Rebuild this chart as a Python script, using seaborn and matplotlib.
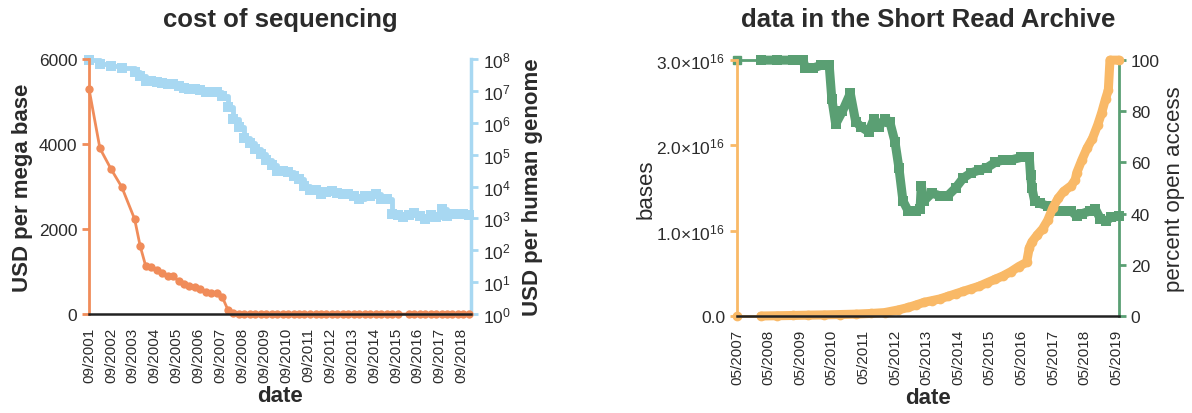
import numpy as np
import pandas as pd
import matplotlib
matplotlib.use("Agg")
import matplotlib.pyplot as plt
import matplotlib.dates as mdates
from matplotlib.ticker import FixedLocator, FixedFormatter, LogLocator, NullLocator
import seaborn as sns

# --- cost of sequencing (quarterly) ---
cost_dates = [
    "2001-09-01", "2002-03-01", "2002-09-01", "2003-03-01", "2003-10-01",
    "2004-01-01", "2004-04-01", "2004-07-01", "2004-10-01",
    "2005-01-01", "2005-04-01", "2005-07-01", "2005-10-01",
    "2006-01-01", "2006-04-01", "2006-07-01", "2006-10-01",
    "2007-01-01", "2007-04-01", "2007-07-01", "2007-10-01",
    "2008-01-01", "2008-04-01", "2008-07-01", "2008-10-01",
    "2009-01-01", "2009-04-01", "2009-07-01", "2009-10-01",
    "2010-01-01", "2010-04-01", "2010-07-01", "2010-10-01",
    "2011-01-01", "2011-04-01", "2011-07-01", "2011-10-01",
    "2012-01-01", "2012-04-01", "2012-07-01", "2012-10-01",
    "2013-01-01", "2013-04-01", "2013-07-01", "2013-10-01",
    "2014-01-01", "2014-04-01", "2014-07-01", "2014-10-01",
    "2015-01-01", "2015-04-01", "2015-07-01", "2015-10-01",
    "2016-01-01", "2016-04-01", "2016-07-01", "2016-10-01",
    "2017-01-01", "2017-04-01", "2017-07-01", "2017-10-01",
    "2018-01-01", "2018-04-01", "2018-07-01", "2018-10-01",
    "2019-01-01",
]
usd_per_mb = [
    5292, 3899, 3414, 2986, 2231,
    1599, 1136, 1107, 1029,
    974, 898, 899, 767,
    699, 652, 636, 582,
    523, 503, 496, 397,
    102, 15, 8.4, 3.8,
    2.6, 1.7, 1.2, 0.78,
    0.52, 0.35, 0.35, 0.32,
    0.23, 0.19, 0.12, 0.09,
    0.09, 0.07, 0.07, 0.06,
    0.06, 0.06, 0.06, 0.05,
    0.04, 0.05, 0.05, 0.06,
    0.04, 0.04, 0.015, 0.014,
    np.nan, 0.013, 0.012, 0.012,
    0.012, 0.012, 0.011, 0.011,
    0.010, 0.010, 0.010, 0.010,
    0.010,
]
usd_per_genome = [
    95.3e6, 70.2e6, 61.4e6, 53.8e6, 40.2e6,
    28.8e6, 20.4e6, 19.9e6, 18.5e6,
    17.5e6, 16.2e6, 16.2e6, 13.8e6,
    12.6e6, 11.7e6, 11.5e6, 10.5e6,
    9.4e6, 9.0e6, 8.9e6, 7.1e6,
    3.06e6, 1.35e6, 752e3, 342e3,
    233e3, 155e3, 108e3, 70e3,
    46.8e3, 31.5e3, 31.1e3, 29.1e3,
    21.0e3, 16.7e3, 10.5e3, 7.7e3,
    7.7e3, 5.9e3, 6.6e3, 7.0e3,
    6.4e3, 5.7e3, 5.8e3, 5.1e3,
    4.0e3, 4.9e3, 4.9e3, 5.7e3,
    4.0e3, 4.2e3, 1.36e3, 1.25e3,
    1.12e3, 1.25e3, 1.45e3, 1.2e3,
    0.95e3, 1.3e3, 1.1e3, 1.9e3,
    1.2e3, 1.4e3, 1.4e3, 1.35e3,
    1.3e3,
]

# --- Short Read Archive ---
bases_dates = [
    "2007-05-01", "2008-02-01", "2008-08-01", "2009-02-01", "2009-08-01",
    "2010-02-01", "2010-08-01", "2011-02-01", "2011-08-01", "2012-01-01",
    "2012-06-01", "2012-10-01", "2013-01-01", "2013-04-01", "2013-07-01",
    "2013-10-01", "2014-01-01", "2014-04-01", "2014-07-01", "2014-10-01",
    "2015-01-01", "2015-04-01", "2015-07-01", "2015-10-01", "2016-01-01",
    "2016-04-01", "2016-07-01", "2016-08-01", "2016-09-01", "2016-11-01",
    "2017-01-01", "2017-03-01", "2017-05-01", "2017-07-01", "2017-09-01",
    "2017-12-01", "2018-01-15", "2018-02-01", "2018-04-01", "2018-06-01",
    "2018-08-01", "2018-10-01", "2018-11-15", "2019-01-01", "2019-02-01",
    "2019-02-20", "2019-06-01",
]
bases = [
    0.0, 0.0, 0.003e16, 0.006e16, 0.01e16,
    0.013e16, 0.017e16, 0.022e16, 0.03e16, 0.04e16,
    0.07e16, 0.10e16, 0.13e16, 0.16e16, 0.18e16,
    0.20e16, 0.23e16, 0.26e16, 0.29e16, 0.32e16,
    0.35e16, 0.39e16, 0.43e16, 0.47e16, 0.52e16,
    0.58e16, 0.63e16, 0.80e16, 0.87e16, 0.95e16,
    1.02e16, 1.12e16, 1.27e16, 1.38e16, 1.46e16,
    1.53e16, 1.60e16, 1.68e16, 1.83e16, 1.97e16,
    2.08e16, 2.24e16, 2.38e16, 2.55e16, 2.65e16,
    3.0e16, 3.0e16,
]
open_dates = [
    "2007-05-01", "2008-02-01", "2008-08-01", "2009-02-01", "2009-06-01",
    "2009-07-01", "2009-10-01", "2010-01-01", "2010-04-01", "2010-05-01",
    "2010-06-15", "2010-09-01", "2010-12-01", "2011-02-01", "2011-04-01",
    "2011-07-01", "2011-09-01", "2011-11-01", "2012-01-01", "2012-03-01",
    "2012-05-01", "2012-06-15", "2012-08-01", "2012-10-01", "2013-01-01",
    "2013-02-15", "2013-03-01", "2013-04-01", "2013-07-01", "2013-10-01",
    "2014-01-01", "2014-04-01", "2014-07-01", "2014-10-01", "2015-01-01",
    "2015-04-01", "2015-07-01", "2015-10-01", "2016-01-01", "2016-05-01",
    "2016-08-01", "2016-08-15", "2016-09-01", "2016-10-01", "2016-12-01",
    "2017-03-01", "2017-06-01", "2017-10-01", "2017-12-01", "2018-02-01",
    "2018-04-01", "2018-07-01", "2018-09-01", "2018-11-01", "2019-01-01",
    "2019-03-01", "2019-06-01",
]
percent_open = [
    100, 100, 100, 100, 100,
    97, 97, 98, 98, 85,
    75, 80, 87, 76, 74,
    72, 77, 74, 77, 76,
    68, 58, 45, 41, 41,
    42, 51, 45, 48, 47,
    47, 50, 54, 56, 57,
    58, 60, 61, 61, 62,
    62, 55, 50, 45, 44,
    43, 41, 41, 41, 39,
    40, 41, 42, 38, 37,
    38.5, 39,
]

cost = pd.DataFrame({"date": pd.to_datetime(cost_dates),
                     "mb": usd_per_mb, "genome": usd_per_genome})
sra = pd.DataFrame({"date": pd.to_datetime(bases_dates), "bases": bases})
opn = pd.DataFrame({"date": pd.to_datetime(open_dates), "pct": percent_open})

sns.set_style("white")
plt.rcParams["font.family"] = ["Liberation Sans", "DejaVu Sans"]
plt.rcParams["mathtext.fontset"] = "custom"
plt.rcParams["mathtext.rm"] = "Liberation Sans"
plt.rcParams["mathtext.it"] = "Liberation Sans"

TXT = "#2b2b2b"
ORANGE1 = "#F08C5A"
BLUE = "#A8D8F2"
ORANGE2 = "#F9B967"
GREEN = "#5A9F73"
LBL = 16
TICK = 12.5

fig = plt.figure(figsize=(11.92, 4.14), dpi=100)

# ---------------- left: cost of sequencing ----------------
ax1 = fig.add_axes([0.0747, 0.2391, 0.3205, 0.616])
ax2 = ax1.twinx()
ax1.set_zorder(ax2.get_zorder() + 1)
ax1.patch.set_visible(False)

sns.lineplot(data=cost, x="date", y="genome", ax=ax2, color=BLUE, marker="s",
             markersize=6.5, markeredgewidth=0, linewidth=3.5,
             drawstyle="steps-post", clip_on=False)
sns.lineplot(data=cost, x="date", y="mb", ax=ax1, color=ORANGE1, marker="o",
             markersize=6, markeredgewidth=0, linewidth=2, clip_on=False)

ax1.set_xlim(pd.Timestamp("2001-09-01"), pd.Timestamp("2019-02-05"))
ax1.set_ylim(0, 6000)
ax1.set_yticks([0, 2000, 4000, 6000])
ax2.set_yscale("log")
ax2.set_ylim(1, 1e8)
ax2.yaxis.set_major_locator(LogLocator(base=10, numticks=12))
ax2.yaxis.set_minor_locator(NullLocator())

ax1.xaxis.set_major_locator(FixedLocator(mdates.date2num(
    pd.to_datetime([f"{y}-09-01" for y in range(2001, 2019)]))))
ax1.xaxis.set_major_formatter(mdates.DateFormatter("%m/%Y"))

for ax in (ax1, ax2):
    ax.spines["top"].set_visible(False)
ax1.spines["right"].set_visible(False)
ax2.spines["left"].set_visible(False)
ax2.spines["bottom"].set_visible(False)
ax1.spines["left"].set_color(ORANGE1)
ax1.spines["left"].set_linewidth(2)
ax1.spines["bottom"].set_color("#222222")
ax1.spines["bottom"].set_linewidth(1.8)
ax2.spines["right"].set_color(BLUE)
ax2.spines["right"].set_linewidth(2.5)

ax1.tick_params(axis="y", colors=ORANGE1, labelcolor=TXT, labelsize=TICK,
                length=5, width=2, left=True)
ax2.tick_params(axis="y", colors=BLUE, labelcolor=TXT, labelsize=TICK,
                length=5, width=2, right=True)
ax1.tick_params(axis="x", labelrotation=90, labelsize=11, labelcolor=TXT,
                length=0, pad=9)

ax1.set_xlabel("date", fontsize=LBL, color=TXT, fontweight="bold", labelpad=2)
ax1.set_ylabel("USD per mega base", fontsize=LBL, color=TXT,
               fontweight="bold", labelpad=4)
ax2.set_ylabel("USD per human genome", fontsize=LBL, color=TXT,
               fontweight="bold", labelpad=8)

# ---------------- right: Short Read Archive ----------------
ax3 = fig.add_axes([0.6183, 0.2343, 0.3205, 0.618])
ax4 = ax3.twinx()
ax3.set_zorder(ax4.get_zorder() + 1)
ax3.patch.set_visible(False)

# first segment is a thin connector, the rest is dense and thick
ax4.plot(opn["date"].iloc[:2], opn["pct"].iloc[:2], color=GREEN,
         linewidth=2, clip_on=False)
sns.lineplot(data=opn.iloc[1:], x="date", y="pct", ax=ax4, color=GREEN,
             marker="s", markersize=7, markeredgewidth=0, linewidth=6.5,
             clip_on=False)
ax4.plot(opn["date"].iloc[0], opn["pct"].iloc[0], "s", color=GREEN,
         markersize=6, clip_on=False)
ax3.plot(sra["date"].iloc[:2], sra["bases"].iloc[:2], color=ORANGE2,
         linewidth=2, clip_on=False)
sns.lineplot(data=sra.iloc[1:], x="date", y="bases", ax=ax3, color=ORANGE2,
             marker="o", markersize=7, markeredgewidth=0, linewidth=6.5,
             clip_on=False)
ax3.plot(sra["date"].iloc[0], sra["bases"].iloc[0], "o", color=ORANGE2,
         markersize=6, clip_on=False)

ax3.set_xlim(pd.Timestamp("2007-05-01"), pd.Timestamp("2019-06-05"))
ax3.set_ylim(0, 3.0e16)
ax3.yaxis.set_major_locator(FixedLocator([0, 1e16, 2e16, 3e16]))
ax3.yaxis.set_major_formatter(FixedFormatter(
    ["0.0", r"$1.0{\times}10^{16}$", r"$2.0{\times}10^{16}$", r"$3.0{\times}10^{16}$"]))
ax4.set_ylim(0, 100)
ax4.set_yticks([0, 20, 40, 60, 80, 100])

ax3.xaxis.set_major_locator(FixedLocator(mdates.date2num(
    pd.to_datetime([f"{y}-05-01" for y in range(2007, 2020)]))))
ax3.xaxis.set_major_formatter(mdates.DateFormatter("%m/%Y"))

for ax in (ax3, ax4):
    ax.spines["top"].set_visible(False)
ax3.spines["right"].set_visible(False)
ax4.spines["left"].set_visible(False)
ax4.spines["bottom"].set_visible(False)
ax3.spines["left"].set_color(ORANGE2)
ax3.spines["left"].set_linewidth(2)
ax3.spines["bottom"].set_color("#222222")
ax3.spines["bottom"].set_linewidth(1.8)
ax4.spines["right"].set_color(GREEN)
ax4.spines["right"].set_linewidth(2)

ax3.tick_params(axis="y", colors=ORANGE2, labelcolor=TXT, labelsize=TICK,
                length=5, width=2, left=True)
ax4.tick_params(axis="y", colors=GREEN, labelcolor=TXT, labelsize=TICK,
                length=5, width=2, right=True)
ax3.tick_params(axis="x", labelrotation=90, labelsize=11, labelcolor=TXT,
                length=0, pad=9)

ax3.set_xlabel("date", fontsize=LBL, color=TXT, fontweight="bold", labelpad=2)
ax3.set_ylabel("bases", fontsize=LBL, color=TXT, labelpad=0)
ax4.set_ylabel("percent open access", fontsize=LBL, color=TXT, labelpad=3)

fig.text(0.235, 0.951, "cost of sequencing", ha="center", va="center",
         fontsize=18.5, fontweight="bold", color=TXT)
fig.text(0.7785, 0.951, "data in the Short Read Archive", ha="center",
         va="center", fontsize=18.5, fontweight="bold", color=TXT)

fig.savefig("out.png", dpi=100)
